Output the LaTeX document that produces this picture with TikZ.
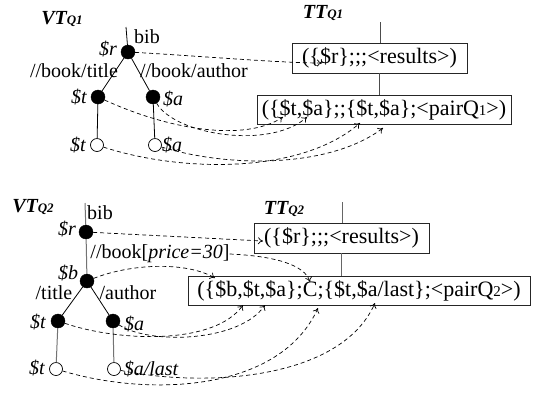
\documentclass[tikz,border=0pt]{standalone}
\usepackage{fontspec}
\setmainfont{Liberation Serif}
\usetikzlibrary{arrows.meta}
\begin{document}
\begin{tikzpicture}[x=1pt,y=-1pt,
  fnode/.style={circle,fill=black,draw=black,minimum size=14pt,inner sep=0pt},
  onode/.style={circle,draw=black,fill=white,minimum size=13pt,inner sep=0pt,line width=0.7pt},
  lbl/.style={font=\fontsize{20}{20}\selectfont,inner sep=0pt},
  vlbl/.style={font=\fontsize{20}{20}\selectfont\itshape,inner sep=0pt},
  tbox/.style={draw=black!85,line width=0.9pt,inner sep=0pt,font=\fontsize{22}{22}\selectfont},
  edge/.style={line width=0.8pt},
  gedge/.style={line width=1pt,draw=black!55},
  map/.style={dash pattern=on 4pt off 3pt,line width=0.7pt,-{To[length=5pt,width=7pt]}},
  ttl/.style={inner sep=0pt,font=\fontsize{20}{20}\selectfont\bfseries\itshape}
]
\path[use as bounding box] (0,0) rectangle (537,392);

% ---------- top : VT_Q1 ----------
\node[ttl] (vt1) at (62,19) {VT{\fontsize{13}{13}\selectfont Q1}};
\node[ttl] (tt1) at (323,13) {TT{\fontsize{13}{13}\selectfont Q1}};

\coordinate (root1) at (126,27);
\node[fnode] (r1) at (128,52) {};
\node[fnode] (t1) at (98,97) {};
\node[fnode] (a1) at (153,97) {};
\node[onode] (to1) at (97,145) {};
\node[onode] (ao1) at (155,145) {};

\draw[edge] (root1) -- (r1);
\draw[edge] (r1) -- (t1);
\draw[edge] (r1) -- (a1);
\draw[edge] (t1) -- (to1);
\draw[edge] (a1) -- (ao1);

\node[lbl] (bib1) at (147,37) {bib};
\node[vlbl] (lr1) at (108,49) {\$r};
\node[lbl] (lbt1) at (74,71) {//book/title};
\node[lbl] (lba1) at (194,71) {//book/author};
\node[vlbl] (lt1) at (79,97) {\$t};
\node[vlbl] (la1) at (173,99) {\$a};
\node[vlbl] (lto1) at (78,145) {\$t};
\node[vlbl] (lao1) at (172,145) {\$a};

\coordinate (tt1top) at (380,22);
\node[tbox,minimum width=175pt,minimum height=30pt] (bx1) at (379.5,58) {(\{\$r\};;;<results>)};
\node[tbox,minimum width=254pt,minimum height=29pt] (bx2) at (384,109.5) {(\{\$t,\$a\};;\{\$t,\$a\};<pairQ{\fontsize{15}{15}\selectfont 1}>)};
\draw[edge,black!70] (tt1top) -- (tt1top |- bx1.north);
\draw[edge,black!70] (bx1.south) -- (bx1.south |- bx2.north);

\coordinate (p1) at (322,63);
\coordinate (p2) at (283,117);
\coordinate (p3) at (307,117);
\coordinate (p4) at (360,123);
\coordinate (p5) at (383,128);

\draw[map] (r1) .. controls (200,56) and (280,63) .. (p1);
\draw[map] (t1) .. controls (170,130) and (245,142) .. (p2);
\draw[map] (a1) .. controls (175,135) and (270,150) .. (p3);
\draw[map] (to1) .. controls (180,172) and (300,175) .. (p4);
\draw[map] (ao1) .. controls (230,168) and (330,168) .. (p5);

% ---------- bottom : VT_Q2 ----------
\node[ttl] (vt2) at (33,207) {VT{\fontsize{13}{13}\selectfont Q2}};
\node[ttl] (tt2) at (284,209) {TT{\fontsize{13}{13}\selectfont Q2}};

\coordinate (root2) at (85,203);
\node[fnode] (r2) at (86,232) {};
\node[fnode] (b2) at (87,281) {};
\node[fnode] (t2) at (58,321) {};
\node[fnode] (a2) at (113,321) {};
\node[onode] (to2) at (56,369) {};
\node[onode] (ao2) at (114,369) {};

\draw[gedge] (root2) -- (r2);
\draw[gedge] (r2) -- (b2);
\draw[edge] (b2) -- (t2);
\draw[edge] (b2) -- (a2);
\draw[gedge] (t2) -- (to2);
\draw[gedge] (a2) -- (ao2);

\node[lbl] (bib2) at (100,213) {bib};
\node[vlbl] (lr2) at (67,229) {\$r};
\node[lbl] (lp) at (160,254) {//book[\textit{price=30}]};
\node[vlbl] (lb2) at (68,273) {\$b};
\node[lbl] (ltt2) at (54,293) {/title};
\node[lbl] (lau2) at (128,293) {/author};
\node[vlbl] (lt2) at (38,322) {\$t};
\node[vlbl] (la2) at (134,324) {\$a};
\node[vlbl] (lto2) at (37,368) {\$t};
\node[vlbl] (lao2) at (151,369) {\$a/last};

\coordinate (tt2top) at (342,202);
\node[tbox,minimum width=175pt,minimum height=30pt] (bx3) at (341.5,238) {(\{\$r\};;;<results>)};
\node[tbox,minimum width=342pt,minimum height=29pt] (bx4) at (359,290.5) {(\{\$b,\$t,\$a\};C;\{\$t,\$a/last\};<pairQ{\fontsize{15}{15}\selectfont 2}>)};
\draw[edge,black!60] (tt2top) -- (tt2top |- bx3.north);
\draw[edge,black!60] (bx3.south) -- (bx3.south |- bx4.north);

\coordinate (q1) at (263,241);
\coordinate (q2) at (310,282);
\coordinate (q3) at (215,278);
\coordinate (q4) at (243,305);
\coordinate (q5) at (265,305);
\coordinate (q6) at (318,308);
\coordinate (q7) at (375,303);

\draw[map] (r2) -- (q1);
\draw[map] (lp.east) .. controls (275,256) and (305,265) .. (q2);
\draw[map] (b2) .. controls (130,264) and (185,261) .. (q3);
\draw[map] (t2) .. controls (120,342) and (215,345) .. (q4);
\draw[map] (a2) .. controls (150,345) and (240,342) .. (q5);
\draw[map] (to2) .. controls (150,397) and (280,392) .. (q6);
\draw[map] (ao2) .. controls (200,387) and (340,382) .. (q7);
\end{tikzpicture}
\end{document}
